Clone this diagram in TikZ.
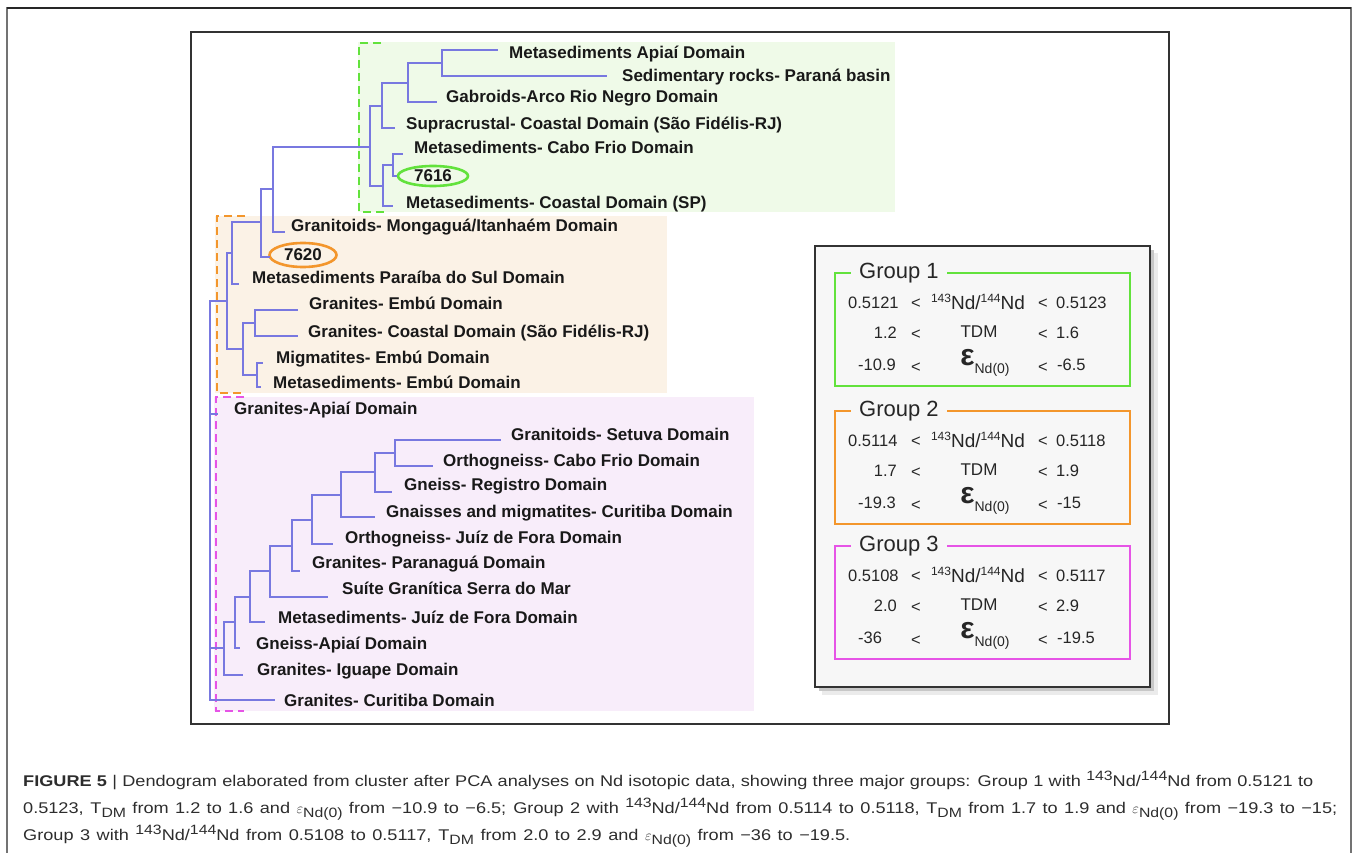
\documentclass[tikz,border=0pt]{standalone}
\usepackage{fontspec}
\setmainfont{Liberation Sans}
\newfontfamily\capfont{Liberation Sans}[FakeStretch=1.17]
\usetikzlibrary{shapes.geometric}
\definecolor{branchc}{RGB}{120,120,224}
\definecolor{grpA}{RGB}{98,226,60}
\definecolor{grpB}{RGB}{243,150,44}
\definecolor{grpC}{RGB}{230,84,230}
\definecolor{bgA}{RGB}{239,250,232}
\definecolor{bgB}{RGB}{251,242,230}
\definecolor{bgC}{RGB}{248,237,250}
\definecolor{legbg}{RGB}{247,247,247}
\definecolor{capc}{RGB}{45,45,45}
\newcommand\legsup[1]{\raisebox{7pt}{\fontsize{12}{12}\selectfont #1}}
\newcommand\capsup[1]{\raisebox{6pt}{\fontsize{13.5}{14}\selectfont #1}}
\newcommand\capsub[1]{\raisebox{-4pt}{\fontsize{13.5}{14}\selectfont #1}}

\begin{document}
\begin{tikzpicture}[x=1pt, y=-1pt,
    branch/.style={draw=branchc, line width=1.4pt},
    leaf/.style={anchor=base west, inner sep=0pt, text=black!90, font=\fontsize{17}{20}\selectfont\bfseries},
    tag/.style={ellipse, line width=2.6pt, inner sep=0pt, text=black!90, font=\fontsize{17}{20}\selectfont\bfseries},
    bracket/.style={line width=2pt, dash pattern=on 8pt off 5pt},
    grpbox/.style={line width=1.6pt},
    grptitle/.style={anchor=west, fill=legbg, inner xsep=8pt, inner ysep=2pt, text=black!85, font=\fontsize{22}{24}\selectfont},
    val/.style={inner sep=0pt, text=black!85, font=\fontsize{16.5}{20}\selectfont},
    captext/.style={anchor=base west, inner sep=0pt, text=capc, font=\capfont\fontsize{15.5}{18}\selectfont}]

    \useasboundingbox (0,0) rectangle (1357,853);

    % Frames.
    \draw[black!55, line width=1.2pt] (7,853) -- (7,8) -- (1351,8) -- (1351,853);
    \draw[black!85, line width=1.2pt] (7,8) -- (1351,8);
    \draw[black!80, line width=1.5pt] (191,32) rectangle (1169,724);

    % Group backgrounds.
    \fill[bgA] (358,42) rectangle (895,212);
    \fill[bgB] (215,216) rectangle (667,393);
    \fill[bgC] (214,397) rectangle (754,711);

    % Group brackets.
    \draw[bracket, grpA] (381,43) -- (359,43) -- (359,212) -- (387,212);
    \draw[bracket, grpB] (245,216) -- (217,216) -- (217,393) -- (245,393);
    \draw[bracket, grpC] (244,397) -- (216,397) -- (216,711) -- (244,711);

    % Leaves.
    \foreach \n/\ex/\ey/\lx/\ly/\txt in {
        apiai/498/50/509/53/{Metasediments Apiaí Domain},
        sed/607/76/622/76/{Sedimentary rocks- Paraná basin},
        gab/437/102/446/97/{Gabroids-Arco Rio Negro Domain},
        supra/395/128/406/124/{Supracrustal- Coastal Domain (São Fidélis-RJ)},
        cabo/403/154/414/148/{Metasediments- Cabo Frio Domain},
        csp/393/206/406/203/{Metasediments- Coastal Domain (SP)},
        mong/285/232/291/225/{Granitoids- Mongaguá/Itanhaém Domain},
        parai/239/284/252/277/{Metasediments Paraíba do Sul Domain},
        gembu/298/310/309/303/{Granites- Embú Domain},
        gcoast/298/336/308/331/{Granites- Coastal Domain (São Fidélis-RJ)},
        migm/263/363/276/357/{Migmatites- Embú Domain},
        membu/261/387/273/382/{Metasediments- Embú Domain},
        gapiai/218/414/234/408/{Granites-Apiaí Domain},
        setuva/501/440/511/434/{Granitoids- Setuva Domain},
        ocabo/433/466/443/460/{Orthogneiss- Cabo Frio Domain},
        regis/392/492/404/484/{Gneiss- Registro Domain},
        gnais/375/517/386/511/{Gnaisses and migmatites- Curitiba Domain},
        ojuiz/333/544/345/537/{Orthogneiss- Juíz de Fora Domain},
        parana/300/571/312/562/{Granites- Paranaguá Domain},
        suite/328/597/342/588/{Suíte Granítica Serra do Mar},
        mjuiz/265/622/278/617/{Metasediments- Juíz de Fora Domain},
        gnapiai/240/648/256/643/{Gneiss-Apiaí Domain},
        iguape/243/675/257/669/{Granites- Iguape Domain},
        curit/275/700/284/700/{Granites- Curitiba Domain}}
    {
        \coordinate (e-\n) at (\ex,\ey);
        \node[leaf] (L-\n) at (\lx,\ly+6) {\txt};
    }

    % Sample tags.
    \coordinate (e-7616) at (397,176);
    \coordinate (e-7620) at (270,257);
    \node[tag, draw=grpA, minimum width=70pt, minimum height=20pt] (T-7616) at (433,176) {7616};
    \node[tag, draw=grpB, minimum width=67pt, minimum height=24pt] (T-7620) at (303,255) {7620};

    % Joins.
    \foreach \n/\x/\y in {g1/442/63, g2/408/83, g3/382/106, g4/393/165, g5/383/186, g6/370/147,
        o1/273/189, o2/261/222, o3/232/253, o4/255/323, o5/257/375, o6/243/349, o7/227/301,
        p1/395/453, p2/375/472, p3/341/495, p4/312/520, p5/292/546, p6/270/571, p7/250/597,
        p8/235/622, p9/224/648, root/210/500}
        \coordinate (\n) at (\x,\y);

    % Branches.
    \foreach \a/\b in {g1/e-apiai, g1/e-sed, g2/g1, g2/e-gab, g3/g2, g3/e-supra,
        g4/e-cabo, g4/e-7616, g5/g4, g5/e-csp, g6/g3, g6/g5,
        o1/g6, o1/e-mong, o2/o1, o2/e-7620, o3/o2, o3/e-parai,
        o4/e-gembu, o4/e-gcoast, o5/e-migm, o5/e-membu, o6/o4, o6/o5, o7/o3, o7/o6,
        p1/e-setuva, p1/e-ocabo, p2/p1, p2/e-regis, p3/p2, p3/e-gnais, p4/p3, p4/e-ojuiz,
        p5/p4, p5/e-parana, p6/p5, p6/e-suite, p7/p6, p7/e-mjuiz, p8/p7, p8/e-gnapiai,
        p9/p8, p9/e-iguape, root/o7, root/e-gapiai, root/p9, root/e-curit}
        \draw[branch] (\a) |- (\b);

    % Legend.
    \fill[black!8] (822,253) rectangle (1158,695);
    \fill[black!22] (819,250) rectangle (1154,691);
    \draw[black!80, line width=1.5pt, fill=legbg] (815,246) rectangle (1150,687);

    \foreach \g/\ty/\col/\rlo/\rhi/\tlo/\thi/\elo/\ehi in {
        1/273/grpA/0.5121/0.5123/1.2/1.6/-10.9/-6.5,
        2/411/grpB/0.5114/0.5118/1.7/1.9/-19.3/-15,
        3/546/grpC/0.5108/0.5117/2.0/2.9/-36/-19.5}
    {
        \draw[grpbox, draw=\col] (835,\ty) rectangle (1130,\ty+113);
        \node[grptitle] (G-\g) at (851,\ty) {Group \g};
        % Ratio row.
        \node[val, anchor=base west] (R\g-lo) at (848,\ty+35) {\rlo};
        \node[val, anchor=base] (R\g-l) at (916,\ty+35) {<};
        \node[val, anchor=base, font=\fontsize{19}{20}\selectfont] (R\g-m) at (978,\ty+36) {\legsup{143}Nd/\legsup{144}Nd};
        \node[val, anchor=base] (R\g-r) at (1043,\ty+35) {<};
        \node[val, anchor=base west] (R\g-hi) at (1056,\ty+35) {\rhi};
        % Age row.
        \node[val, anchor=base east] (A\g-lo) at (897,\ty+65) {\tlo};
        \node[val, anchor=base] (A\g-l) at (916,\ty+66) {<};
        \node[val, anchor=base, font=\fontsize{17}{20}\selectfont] (A\g-m) at (979,\ty+64) {TDM};
        \node[val, anchor=base] (A\g-r) at (1043,\ty+66) {<};
        \node[val, anchor=base west] (A\g-hi) at (1056,\ty+65) {\thi};
        % Epsilon row.
        \node[val, anchor=base west] (E\g-lo) at (858,\ty+97) {\elo};
        \node[val, anchor=base] (E\g-l) at (916,\ty+99) {<};
        \node[val, anchor=base] (E\g-m) at (985,\ty+92) {{\fontsize{30}{30}\selectfont\bfseries ε}\raisebox{-8pt}{\fontsize{14}{14}\selectfont Nd(0)}};
        \node[val, anchor=base] (E\g-r) at (1043,\ty+99) {<};
        \node[val, anchor=base west] (E\g-hi) at (1057,\ty+97) {\ehi};
    }

    % Caption.
    \node[captext] (C-1) at (23,786) {\makebox[1290pt][s]{{\bfseries FIGURE 5} | Dendogram elaborated from cluster after PCA analyses on Nd isotopic data, showing three major groups: Group 1 with \capsup{143}Nd/\capsup{144}Nd from 0.5121 to}};
    \node[captext] (C-2) at (23,813) {\makebox[1314pt][s]{0.5123, T\capsub{DM} from 1.2 to 1.6 and $\varepsilon$\capsub{Nd(0)} from −10.9 to −6.5; Group 2 with \capsup{143}Nd/\capsup{144}Nd from 0.5114 to 0.5118, T\capsub{DM} from 1.7 to 1.9 and $\varepsilon$\capsub{Nd(0)} from −19.3 to −15;}};
    \node[captext] (C-3) at (23,840) {\makebox[827pt][s]{Group 3 with \capsup{143}Nd/\capsup{144}Nd from 0.5108 to 0.5117, T\capsub{DM} from 2.0 to 2.9 and $\varepsilon$\capsub{Nd(0)} from −36 to −19.5.}};

\end{tikzpicture}
\end{document}
